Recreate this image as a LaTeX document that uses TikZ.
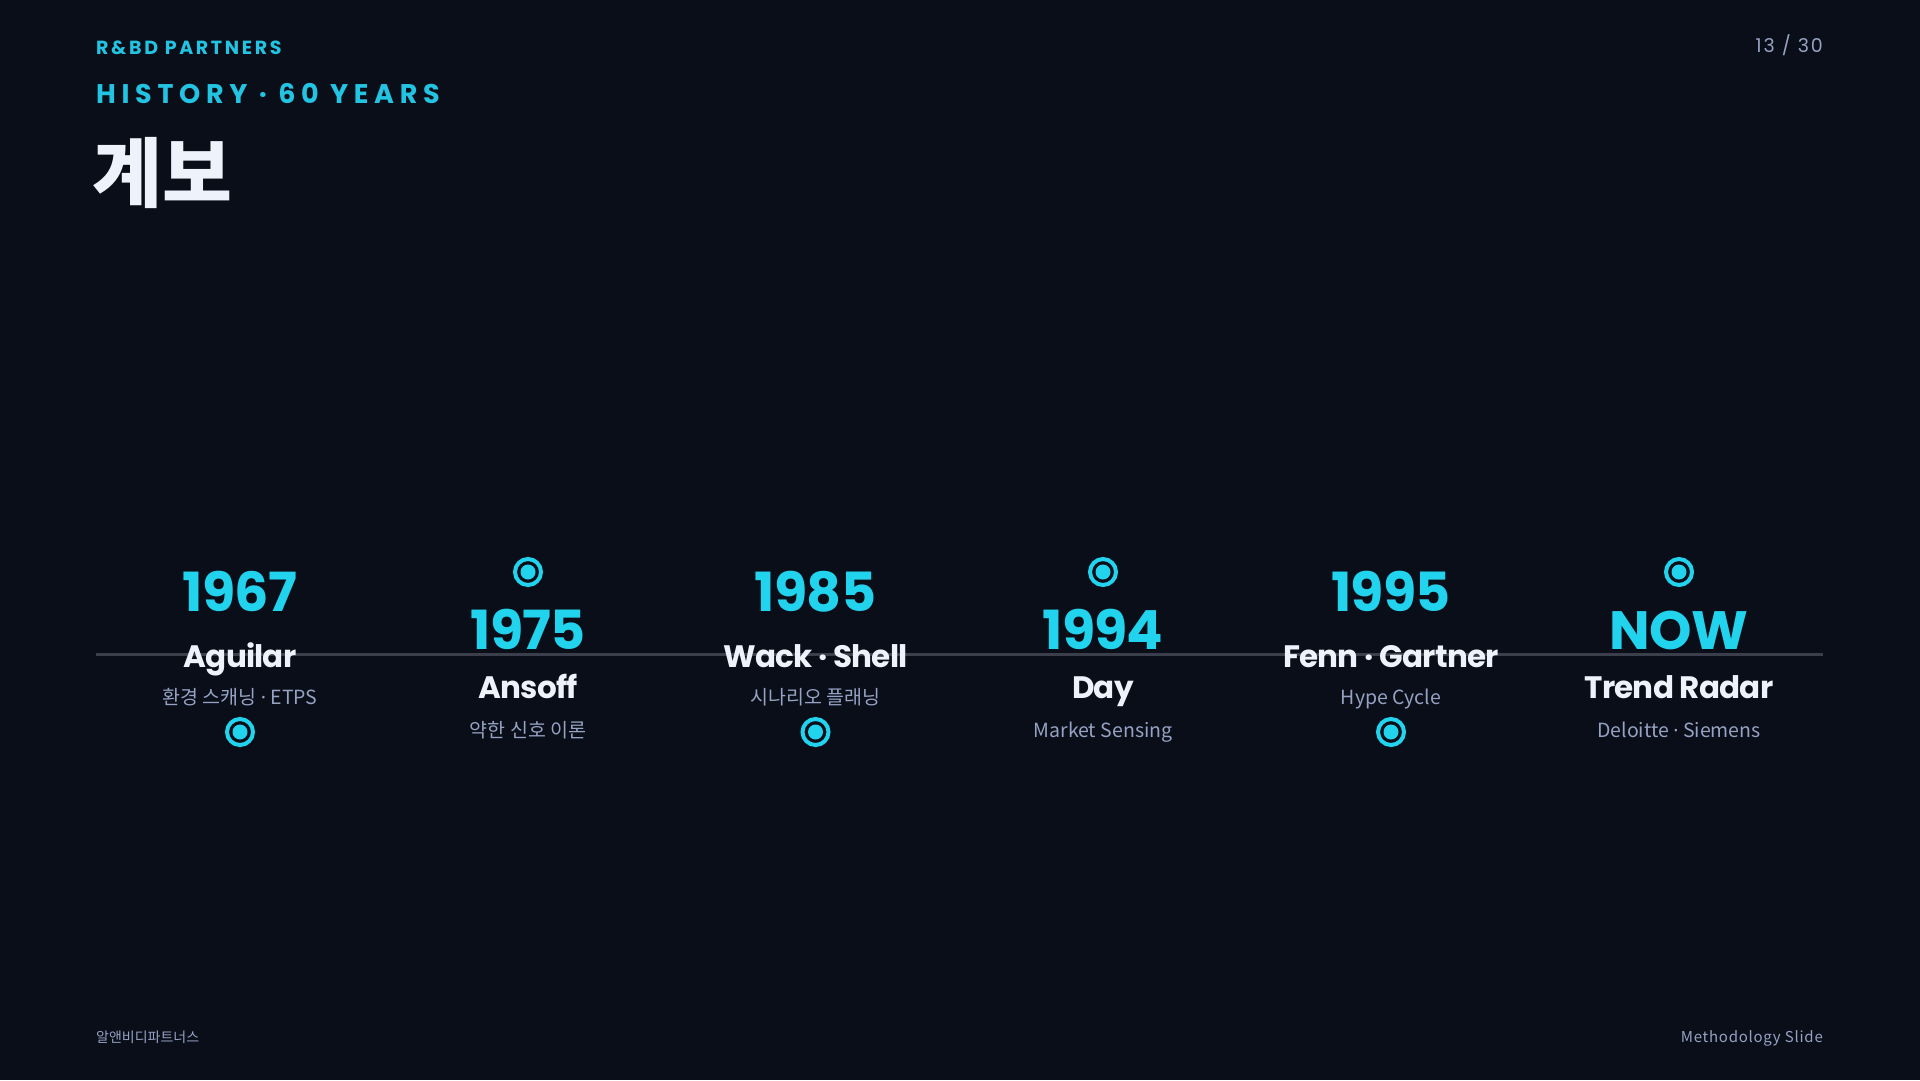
\documentclass[tikz,border=0pt]{standalone}
\usepackage{fontspec}
\setmainfont{Poppins}
\newfontfamily\krfont{Noto Sans CJK KR}
\newfontfamily\dotfont{Noto Sans}
\usepackage{xcolor}

\definecolor{bgnavy}{HTML}{0A0E19}
\definecolor{cyanhi}{HTML}{22D3EE}
\definecolor{cyanhead}{HTML}{22C4E2}
\definecolor{paper}{HTML}{EEF2FA}
\definecolor{mutedtxt}{HTML}{95A2C2}
\definecolor{axisgray}{HTML}{3A3F4B}

% narrow middle dot for the small captions
\newcommand\sepdot{{\dotfont ·}}

\begin{document}
\begin{tikzpicture}[
        x=1pt, y=-1pt,
        yearlabel/.style={
            font=\fontsize{54}{60}\selectfont\bfseries\addfontfeatures{LetterSpace=-1.5},
            text=cyanhi, anchor=base, inner sep=0pt
        },
        namelabel/.style={
            font=\fontsize{31}{36}\selectfont\bfseries\addfontfeatures{LetterSpace=-2.5},
            text=paper, anchor=base, inner sep=0pt
        },
        sublabel/.style={
            font=\krfont\fontsize{19.5}{24}\selectfont,
            text=mutedtxt, anchor=base, inner sep=0pt
        },
        ring/.style={
            circle, draw=cyanhi, line width=4pt, minimum size=26pt, inner sep=0pt,
            path picture={\fill[cyanhi] (path picture bounding box.center) circle (7.5pt);}
        },
        axisline/.style={draw=axisgray, line width=3pt}
    ]

% page and background
\fill[bgnavy] (0,0) rectangle (1920,1080);
\useasboundingbox (0,0) rectangle (1920,1080);

% header
\node[anchor=base west, inner sep=0pt, text=cyanhead,
      font=\fontsize{19}{22}\selectfont\bfseries\addfontfeatures{LetterSpace=14}]
      (brand) at (96,54) {R\&BD PARTNERS};
\node[anchor=base west, inner sep=0pt, text=cyanhead,
      font=\fontsize{27}{32}\selectfont\bfseries\addfontfeatures{LetterSpace=21}]
      (kicker) at (96,103) {HISTORY · 60 YEARS};
\node[anchor=base west, inner sep=0pt, text=paper,
      font=\krfont\bfseries\fontsize{76}{80}\selectfont]
      (title) at (92,201) {계보};
\node[anchor=base east, inner sep=0pt, text=mutedtxt,
      font=\fontsize{19}{22}\selectfont\addfontfeatures{LetterSpace=10}]
      (pageno) at (1823,52) {13 / 30};

% timeline axis
\coordinate (tlstart) at (96,654);
\coordinate (tlend) at (1823,654);
\draw[axisline] (tlstart) -- (tlend);

% years above the axis, dot below
\foreach \cx/\yr/\nm/\sb [count=\k] in {
        240/1967/Aguilar/{환경 스캐닝 \sepdot{} ETPS},
        815.5/1985/{Wack · Shell}/{시나리오 플래닝},
        1391/1995/{Fenn · Gartner}/{Hype Cycle}} {
    \node[yearlabel] (up-yr-\k) at (\cx,611) {\yr};
    \node[namelabel] (up-nm-\k) at (\cx,667) {\nm};
    \node[sublabel] (up-sb-\k) at (\cx,704) {\sb};
    \node[ring] (up-dot-\k) at (\cx,732) {};
}

% dot above, years below the axis
\foreach \cx/\yr/\nm/\sb [count=\k] in {
        528/1975/Ansoff/{약한 신호 이론},
        1103/1994/Day/{Market Sensing},
        1679/NOW/{Trend Radar}/{Deloitte \sepdot{} Siemens}} {
    \node[ring] (dn-dot-\k) at (\cx,572) {};
    \node[yearlabel] (dn-yr-\k) at (\cx,649) {\yr};
    \node[namelabel] (dn-nm-\k) at (\cx,698) {\nm};
    \node[sublabel] (dn-sb-\k) at (\cx,737) {\sb};
}

% footer
\node[anchor=base west, inner sep=0pt, text=mutedtxt,
      font=\krfont\fontsize{14}{17}\selectfont]
      (footleft) at (96,1042) {알앤비디파트너스};
\node[anchor=base east, inner sep=0pt, text=mutedtxt,
      font=\krfont\fontsize{15}{18}\selectfont\addfontfeatures{LetterSpace=5}]
      (footright) at (1823,1042) {Methodology Slide};

\end{tikzpicture}
\end{document}
